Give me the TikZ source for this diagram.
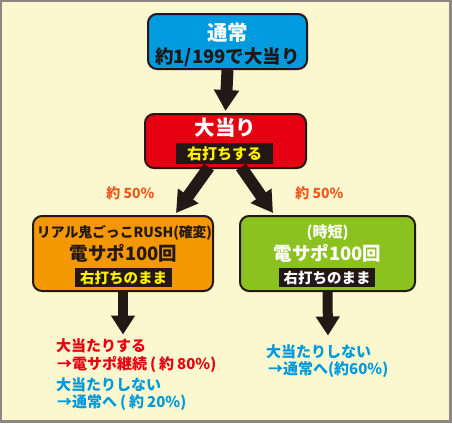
\documentclass[tikz,border=0pt]{standalone}
\usepackage{fontspec}
\setmainfont{Noto Sans CJK JP}[BoldFont={Noto Sans CJK JP Black}]
\usetikzlibrary{arrows.meta,calc}
\definecolor{bgc}{HTML}{FBF7CE}
\definecolor{framec}{HTML}{8C8782}
\definecolor{bluec}{HTML}{009BDF}
\definecolor{redc}{HTML}{E50012}
\definecolor{orangec}{HTML}{F39800}
\definecolor{greenc}{HTML}{8CC21F}
\definecolor{inkc}{HTML}{231815}
\definecolor{pctc}{HTML}{EA5A1E}
\definecolor{yelc}{HTML}{FFF100}
\definecolor{txtblue}{HTML}{0099DC}
\definecolor{txtred}{HTML}{E60012}
\tikzset{
  box/.style={draw=inkc, line width=2pt, rounded corners=9pt, inner sep=0pt},
  tag/.style={fill=inkc, inner sep=0pt, font=\bfseries\fontsize{14.5}{15}\selectfont},
  bigarrow/.style={draw=inkc, line width=12pt, -{Triangle[width=24pt,length=21pt]}},
  smallarrow/.style={draw=inkc, line width=10pt, -{Triangle[width=23pt,length=19pt]}},
  note/.style={anchor=west, inner sep=0pt, font=\bfseries\fontsize{15}{15}\selectfont},
}
\begin{document}
\begin{tikzpicture}[x=1pt,y=-1pt]
\useasboundingbox (0,0) rectangle (452,423);
\fill[framec] (0,0) rectangle (452,423);
\fill[bgc] (2,2) rectangle (449,420);

% boxes
\node[box, fill=bluec, minimum width=159pt, minimum height=55pt] (top) at (227.5,41.5) {};
\node[box, fill=redc, minimum width=161pt, minimum height=54pt] (hit) at (225.5,141) {};
\node[box, fill=orangec, minimum width=180pt, minimum height=75pt] (rush) at (123,253.5) {};
\node[box, fill=greenc, minimum width=175pt, minimum height=75pt] (jitan) at (327.5,253.5) {};

% texts in top box
\node[text=white, font=\bfseries\fontsize{20.5}{21}\selectfont, inner sep=0pt] (t1) at (227.5,33) {通常};
\node[text=inkc, font=\bfseries\fontsize{18.5}{19}\selectfont, inner sep=0pt] (t2) at (227.5,57) {約1/199で大当り};

% red box
\node[text=white, font=\bfseries\fontsize{20.5}{21}\selectfont, inner sep=0pt] (h1) at (225.5,128) {大当り};
\node[tag, text=yelc, minimum width=97pt, minimum height=21pt] (h2) at (224.5,153.5) {\fontsize{15}{15}\selectfont 右打ちする};

% rush box
\node[text=inkc, font=\bfseries\fontsize{13.5}{14}\selectfont, inner sep=0pt] (r1) at (124.5,233) {\resizebox{175pt}{!}{リアル鬼ごっこRUSH(確変)}};
\node[text=inkc, font=\bfseries\fontsize{18.5}{19}\selectfont, inner sep=0pt] (r2) at (123.5,253) {電サポ100回};
\node[tag, text=yelc, minimum width=97pt, minimum height=19pt] (r3) at (123.5,277.5) {右打ちのまま};

% jitan box
\node[text=white, font=\bfseries\fontsize{15}{15}\selectfont, inner sep=0pt] (j1) at (327.5,233) {(時短)};
\node[text=white, font=\bfseries\fontsize{18.5}{19}\selectfont, inner sep=0pt] (j2) at (327.5,253) {電サポ100回};
\node[tag, text=white, minimum width=96pt, minimum height=19pt] (j3) at (327,277.5) {右打ちのまま};

% percentage labels
\node[text=pctc, font=\bfseries\fontsize{14}{14}\selectfont, inner sep=0pt] (p1) at (130.5,193) {約 50\%};
\node[text=pctc, font=\bfseries\fontsize{14}{14}\selectfont, inner sep=0pt] (p2) at (319.5,193) {約 50\%};

% arrows
\draw[bigarrow] (top.south) -- ($(hit.north)+(0,-2)$);
\coordinate (lstart) at ($(hit.south)+(-16.5,-2)$);
\coordinate (rstart) at ($(hit.south)+(15.5,-2)$);
\coordinate (lend) at ($(rush.north)+(53,-2)$);
\coordinate (rend) at ($(jitan.north)+(-54.5,-2)$);
\draw[bigarrow] (lstart) -- (lend);
\draw[bigarrow] (rstart) -- (rend);
\coordinate (lres) at ($(rush.south)+(0,42.5)$);
\coordinate (rres) at ($(jitan.south)+(0.5,43.5)$);
\draw[smallarrow] (rush.south) -- (lres);
\draw[smallarrow] (jitan.south) -- (rres);

% result texts
\node[note, text=txtred] (a1) at (56,346) {大当たりする};
\node[note, text=txtred] (a2) at (57,364) {→電サポ継続\hspace{3pt}(\hspace{3pt}約\hspace{3pt}80\%)};
\node[note, text=txtblue] (a3) at (56,385) {大当たりしない};
\node[note, text=txtblue] (a4) at (57,403) {→通常へ\hspace{3pt}(\hspace{3pt}約\hspace{3pt}20\%)};
\node[note, text=txtblue] (b1) at (266,352) {大当たりしない};
\node[note, text=txtblue] (b2) at (268,370) {→通常へ(約60\%)};
\end{tikzpicture}
\end{document}
